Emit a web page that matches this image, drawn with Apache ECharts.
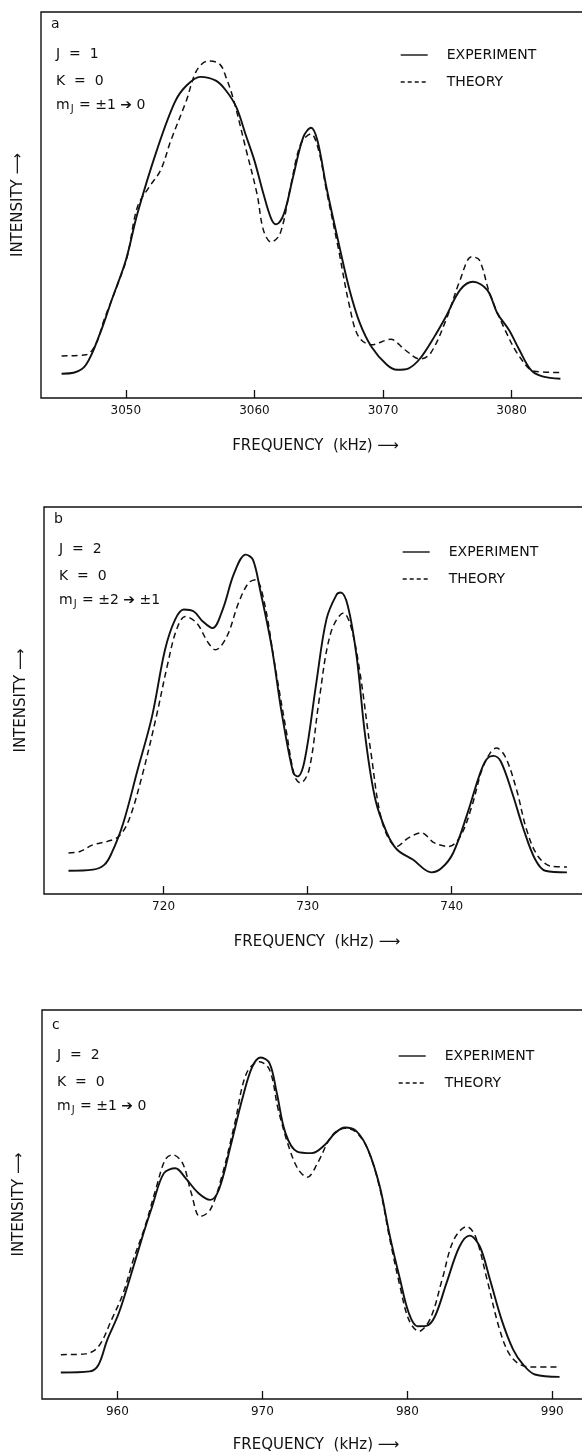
<!DOCTYPE html>
<html>
<head>
<meta charset="utf-8">
<script src="https://cdn.jsdelivr.net/npm/echarts@6/dist/echarts.min.js"></script>
<style>
html,body{margin:0;padding:0;background:#fff;}
#chart{width:582px;height:1452px;}
</style>
</head>
<body>
<div id="chart"></div>
<script>
// ---------- DATA ----------
// Panel a: J=1, K=0, mJ=±1→0   [frequency kHz, intensity (arb.)]
const expA = [[3045.0,6.3],[3046.0,6.6],[3046.9,8.6],[3048.0,16.8],[3048.9,25.4],[3050.0,35.7],[3050.9,47.8],[3052.4,64.1],[3053.8,76.6],[3054.7,80.9],[3055.8,83.2],[3057.0,82.2],[3057.8,79.6],[3058.6,75.3],[3059.3,68.4],[3060.0,61.5],[3060.7,52.9],[3061.3,46.5],[3061.7,45.0],[3062.3,47.8],[3063.0,57.2],[3063.8,67.6],[3064.4,70.0],[3064.9,66.7],[3065.6,54.6],[3066.5,40.9],[3067.4,28.0],[3068.2,19.4],[3069.1,13.3],[3070.3,8.6],[3071.1,7.3],[3072.0,7.7],[3072.9,10.3],[3074.0,15.9],[3074.9,21.1],[3076.0,28.0],[3077.0,30.1],[3078.1,28.0],[3078.9,21.9],[3079.8,17.6],[3080.6,12.5],[3081.5,7.3],[3082.4,5.6],[3083.8,5.0]];
const theoryA = [[3045.0,10.9],[3046.9,11.2],[3047.7,14.2],[3048.3,20.2],[3049.2,28.0],[3050.1,36.6],[3050.9,49.5],[3051.8,54.6],[3052.7,59.0],[3053.5,66.7],[3054.7,77.0],[3055.5,84.8],[3056.4,87.3],[3057.3,86.5],[3057.8,83.0],[3058.4,77.0],[3059.3,65.0],[3060.2,52.9],[3060.7,43.5],[3061.3,40.4],[3062.0,42.6],[3062.8,54.6],[3063.6,65.8],[3064.4,68.4],[3065.0,64.1],[3065.6,53.8],[3066.5,39.2],[3067.4,23.7],[3068.1,15.9],[3069.1,13.8],[3070.6,15.2],[3071.7,12.5],[3072.9,10.1],[3073.7,11.6],[3074.9,20.2],[3076.0,30.6],[3076.9,36.6],[3077.5,35.7],[3078.3,27.1],[3079.5,17.6],[3080.6,10.8],[3081.8,6.9],[3083.8,6.6]];
// Panel b: J=2, K=0, mJ=±2→±1
const expB = [[713.4,6.0],[715.1,6.3],[715.9,7.6],[716.4,10.6],[717.2,18.3],[718.2,32.1],[719.2,45.9],[720.1,63.1],[720.8,70.9],[721.4,73.5],[722.1,73.0],[722.7,70.5],[723.4,68.7],[724.1,73.5],[724.9,82.9],[725.7,87.7],[726.2,86.4],[726.7,78.6],[727.5,64.0],[728.2,46.8],[729.0,31.3],[729.3,30.4],[729.8,34.7],[730.6,54.5],[731.3,70.9],[732.0,77.3],[732.3,77.9],[732.8,74.3],[733.4,61.4],[734.0,40.7],[734.7,24.4],[735.5,15.8],[736.2,11.5],[737.3,8.9],[738.6,5.6],[739.3,6.7],[740.1,10.6],[741.1,20.9],[741.9,30.4],[742.4,34.7],[742.9,35.7],[743.4,34.3],[744.2,26.1],[745.0,16.6],[745.8,8.9],[746.5,6.0],[748.0,5.6]];
const theoryB = [[713.4,10.6],[714.2,11.0],[715.1,12.7],[716.1,13.6],[716.9,14.9],[717.6,19.2],[718.5,30.4],[719.5,45.9],[720.3,59.7],[720.9,68.3],[721.5,71.7],[722.3,70.0],[723.1,64.9],[723.6,63.1],[724.4,66.6],[725.2,75.2],[725.9,80.4],[726.4,81.2],[727.0,75.2],[727.7,59.7],[728.5,42.5],[729.1,30.4],[729.5,28.7],[730.1,32.1],[730.8,50.2],[731.6,67.4],[732.5,72.6],[733.0,69.2],[733.6,58.0],[734.4,36.4],[735.2,18.3],[736.2,12.3],[737.0,14.5],[737.9,15.8],[738.8,13.2],[739.8,12.3],[740.6,14.9],[741.4,22.7],[742.1,32.1],[742.7,36.6],[743.1,37.7],[743.7,35.6],[744.5,27.0],[745.2,16.6],[746.0,9.7],[747.0,7.1],[748.0,7.0]];
// Panel c: J=2, K=0, mJ=±1→0
const expC = [[956.1,6.8],[958.1,7.1],[958.7,8.8],[959.3,15.2],[960.1,22.1],[960.9,31.5],[961.8,42.6],[962.4,49.5],[963.2,58.0],[964.0,59.3],[964.7,56.8],[965.6,52.9],[966.4,51.2],[967.0,53.8],[967.8,64.9],[968.6,76.9],[969.3,85.4],[969.9,87.8],[970.5,86.3],[971.0,78.6],[971.6,68.3],[972.4,63.6],[973.4,63.2],[974.3,65.3],[975.0,68.3],[975.7,69.8],[976.5,68.8],[977.3,64.0],[978.1,54.6],[978.8,41.8],[979.5,30.7],[980.1,22.1],[980.7,18.7],[981.3,18.8],[981.9,21.2],[982.7,29.8],[983.6,39.2],[984.3,42.0],[985.0,39.2],[985.7,30.7],[986.5,20.4],[987.3,12.7],[988.0,8.8],[988.8,6.3],[990.5,5.7]];
const theoryC = [[956.1,11.4],[957.8,11.6],[958.7,13.5],[959.6,20.4],[960.4,27.2],[961.1,35.8],[961.9,44.3],[962.7,54.6],[963.3,61.5],[963.8,62.8],[964.5,60.6],[965.1,52.9],[965.7,46.9],[966.4,48.6],[967.2,57.2],[968.1,70.9],[968.9,83.7],[969.8,86.7],[970.5,84.6],[971.1,74.3],[971.9,64.0],[972.5,58.9],[973.1,57.0],[973.8,60.6],[974.6,66.6],[975.1,68.8],[975.7,69.6],[976.5,68.5],[977.3,63.9],[978.1,54.2],[978.8,40.9],[979.5,28.9],[980.1,20.4],[980.8,17.4],[981.6,20.8],[982.4,30.7],[983.2,40.9],[984.1,44.3],[984.7,41.8],[985.5,30.7],[986.3,18.7],[987.0,11.8],[987.8,8.8],[988.8,8.2],[990.5,8.2]];

// tick labels
const ticksA = [3050, 3060, 3070, 3080];
const ticksB = [720, 730, 740];
const ticksC = [960, 970, 980, 990];

// panel texts
const panelLetters = ['a', 'b', 'c'];
const jLabels = ['J  =  1', 'J  =  2', 'J  =  2'];
const kLabels = ['K  =  0', 'K  =  0', 'K  =  0'];
const mLabels = ['m{s|J} = ±1 ➔ 0', 'm{s|J} = ±2 ➔ ±1', 'm{s|J} = ±1 ➔ 0'];
const seriesNames = ['EXPERIMENT', 'THEORY'];
const xTitle = 'FREQUENCY  (kHz) ⟶';
const yTitle = 'INTENSITY ⟶';

// ---------- LAYOUT ----------
const FONT = 'DejaVu Sans';
const INK = '#111';
const panels = [
  {left: 41, top: 12, height: 386, min: 3043.4, max: 3086.1, ticks: ticksA, exp: expA, th: theoryA, legTop: 48, legLeft: 400, txtTop: 24, nameGap: 41},
  {left: 44, top: 507, height: 387, min: 711.7, max: 749.6, ticks: ticksB, exp: expB, th: theoryB, legTop: 545, legLeft: 402, txtTop: 519, nameGap: 41},
  {left: 42, top: 1010, height: 389, min: 954.8, max: 992.6, ticks: ticksC, exp: expC, th: theoryC, legTop: 1049, legLeft: 398, txtTop: 1025, nameGap: 39}
];
const GRID_RIGHT_EDGE = 590; // frame runs off the right side of the page

const grid = [], xAxis = [], yAxis = [], series = [], legend = [], graphic = [];
panels.forEach((p, i) => {
  grid.push({left: p.left, top: p.top, width: GRID_RIGHT_EDGE - p.left, height: p.height, show: true,
    outerBoundsMode: 'none', containLabel: false,
    borderColor: INK, borderWidth: 1.4, backgroundColor: 'transparent'});
  xAxis.push({type: 'value', gridIndex: i, min: p.min, max: p.max,
    axisLine: {show: false}, splitLine: {show: false},
    axisTick: {show: true, inside: true, length: 8, customValues: p.ticks, lineStyle: {color: INK, width: 1.3}},
    axisLabel: {show: true, customValues: p.ticks, margin: 7, color: INK, fontFamily: FONT, fontSize: 12,
      formatter: v => String(v)},
    name: xTitle, nameLocation: 'middle', nameGap: p.nameGap,
    nameTextStyle: {fontFamily: FONT, fontSize: 15, color: INK, padding: [0, 0, 0, 0]}
  });
  yAxis.push({type: 'value', gridIndex: i, min: 0, max: 100,
    axisLine: {show: false}, axisTick: {show: false}, axisLabel: {show: false}, splitLine: {show: false},
    name: yTitle, nameLocation: 'middle', nameGap: 15, nameRotate: 90,
    nameTextStyle: {fontFamily: FONT, fontSize: 15, color: INK}
  });
  series.push({name: seriesNames[0], type: 'line', xAxisIndex: i, yAxisIndex: i, data: p.exp,
    symbol: 'none', smooth: 0.35, lineStyle: {color: INK, width: 1.9, type: 'solid'}, itemStyle: {color: INK}});
  series.push({name: seriesNames[1], type: 'line', xAxisIndex: i, yAxisIndex: i, data: p.th,
    symbol: 'none', smooth: 0.35, lineStyle: {color: INK, width: 1.5, type: [6, 4]}, itemStyle: {color: INK}});
  legend.push({orient: 'vertical', left: p.legLeft, top: p.legTop, padding: 0, itemWidth: 27, itemHeight: 14, itemGap: 13,
    selectedMode: false,
    itemStyle: {opacity: 0, borderWidth: 0},
    data: [{name: seriesNames[0], lineStyle: {width: 1.4}}, {name: seriesNames[1], lineStyle: {type: [4, 3], width: 1.4}}],
    textStyle: {fontFamily: FONT, fontSize: 14, color: INK, padding: [0, 0, 0, 14]}});
  const tx = p.left + 15;
  graphic.push({type: 'text', x: p.left + 10, y: p.txtTop, style: {text: panelLetters[i], font: '14px ' + FONT, fill: INK, verticalAlign: 'middle'}});
  graphic.push({type: 'text', x: tx, y: p.txtTop + 30, style: {text: jLabels[i], font: '14px ' + FONT, fill: INK, verticalAlign: 'middle'}});
  graphic.push({type: 'text', x: tx, y: p.txtTop + 57, style: {text: kLabels[i], font: '14px ' + FONT, fill: INK, verticalAlign: 'middle'}});
  graphic.push({type: 'text', x: tx, y: p.txtTop + 81, style: {text: mLabels[i], font: '14px ' + FONT, fill: INK, verticalAlign: 'middle',
    rich: {s: {fontSize: 10, fontFamily: FONT, padding: [9, 1, 0, 1]}}}});
});

const chart = echarts.init(document.getElementById('chart'), null, {renderer: 'canvas'});
chart.setOption({
  animation: false,
  backgroundColor: '#fff',
  grid, xAxis, yAxis, series, legend, graphic
});
</script>
</body>
</html>
